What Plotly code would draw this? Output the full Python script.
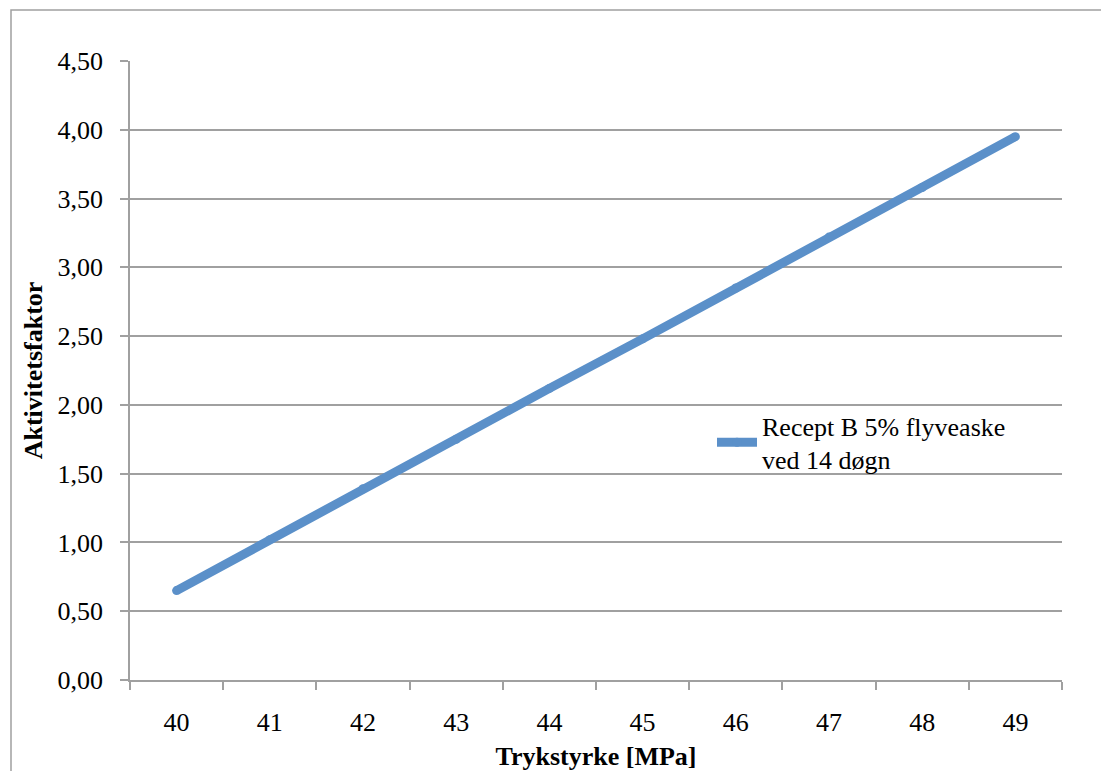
import plotly.graph_objects as go

categories = [40, 41, 42, 43, 44, 45, 46, 47, 48, 49]
aktivitet = [0.65, 1.02, 1.39, 1.75, 2.12, 2.48, 2.85, 3.22, 3.58, 3.95]
y_ticks = [0, 0.5, 1, 1.5, 2, 2.5, 3, 3.5, 4, 4.5]
y_tick_labels = ["0,00", "0,50", "1,00", "1,50", "2,00", "2,50", "3,00", "3,50", "4,00", "4,50"]
series_name = "Recept B 5% flyveaske<br>ved 14 døgn"

FONT = "Liberation Serif"
FS = 26
GREY = "#a0a0a0"
BLUE = "#5b90c9"

fig = go.Figure()
fig.add_trace(go.Scatter(
    x=categories, y=aktivitet, name=series_name,
    mode="lines+markers",
    line=dict(color=BLUE, width=9),
    marker=dict(color=BLUE, size=9),
    showlegend=True,
))

W, H = 1101, 771
L, R, T, B = 130, 39, 61, 91
pw, ph = W - L - R, H - T - B

def px_x(p):
    return (p - L) / pw

def px_y(p):
    return (H - B - p) / ph

fig.update_layout(
    width=W, height=H,
    margin=dict(l=L, r=R, t=T, b=B, autoexpand=False),
    paper_bgcolor="white", plot_bgcolor="white",
    font=dict(family=FONT, size=FS, color="black"),
    legend=dict(
        x=px_x(712), y=px_y(402), xanchor="left", yanchor="top",
        bgcolor="rgba(0,0,0,0)", font=dict(family=FONT, size=FS),
        itemwidth=40, tracegroupgap=0,
    ),
    xaxis=dict(
        range=[39.5, 49.5], automargin=False,
        tickvals=categories, ticktext=[str(c) for c in categories],
        ticks="", showgrid=False, zeroline=False,
        showline=True, linecolor=GREY, linewidth=1.5,
        ticklabelstandoff=18,
        minor=dict(ticks="outside", tick0=39.5, dtick=1, ticklen=8,
                   tickcolor=GREY, tickwidth=1.5, showgrid=False),
        title=dict(text="<b>Trykstyrke [MPa]</b>", font=dict(family=FONT, size=FS), standoff=16),
        fixedrange=True,
    ),
    yaxis=dict(
        range=[0, 4.5], automargin=False,
        tickvals=y_ticks, ticktext=y_tick_labels,
        ticks="outside", ticklen=8, tickcolor=GREY, tickwidth=1.5,
        showgrid=True, gridcolor=GREY, gridwidth=1.5,
        zeroline=False, showline=True, linecolor=GREY, linewidth=1.5,
        ticklabelstandoff=12,
        title=dict(text="<b>Aktivitetsfaktor</b>", font=dict(family=FONT, size=FS), standoff=7),
        fixedrange=True,
    ),
)

# outer chart border (left and top visible; right/bottom beyond the page)
fig.add_shape(type="rect", xref="paper", yref="paper",
              x0=px_x(11), x1=px_x(1120), y0=px_y(10), y1=px_y(790),
              line=dict(color=GREY, width=1.5), fillcolor="rgba(0,0,0,0)", layer="below")

fig.write_html("out.html")
